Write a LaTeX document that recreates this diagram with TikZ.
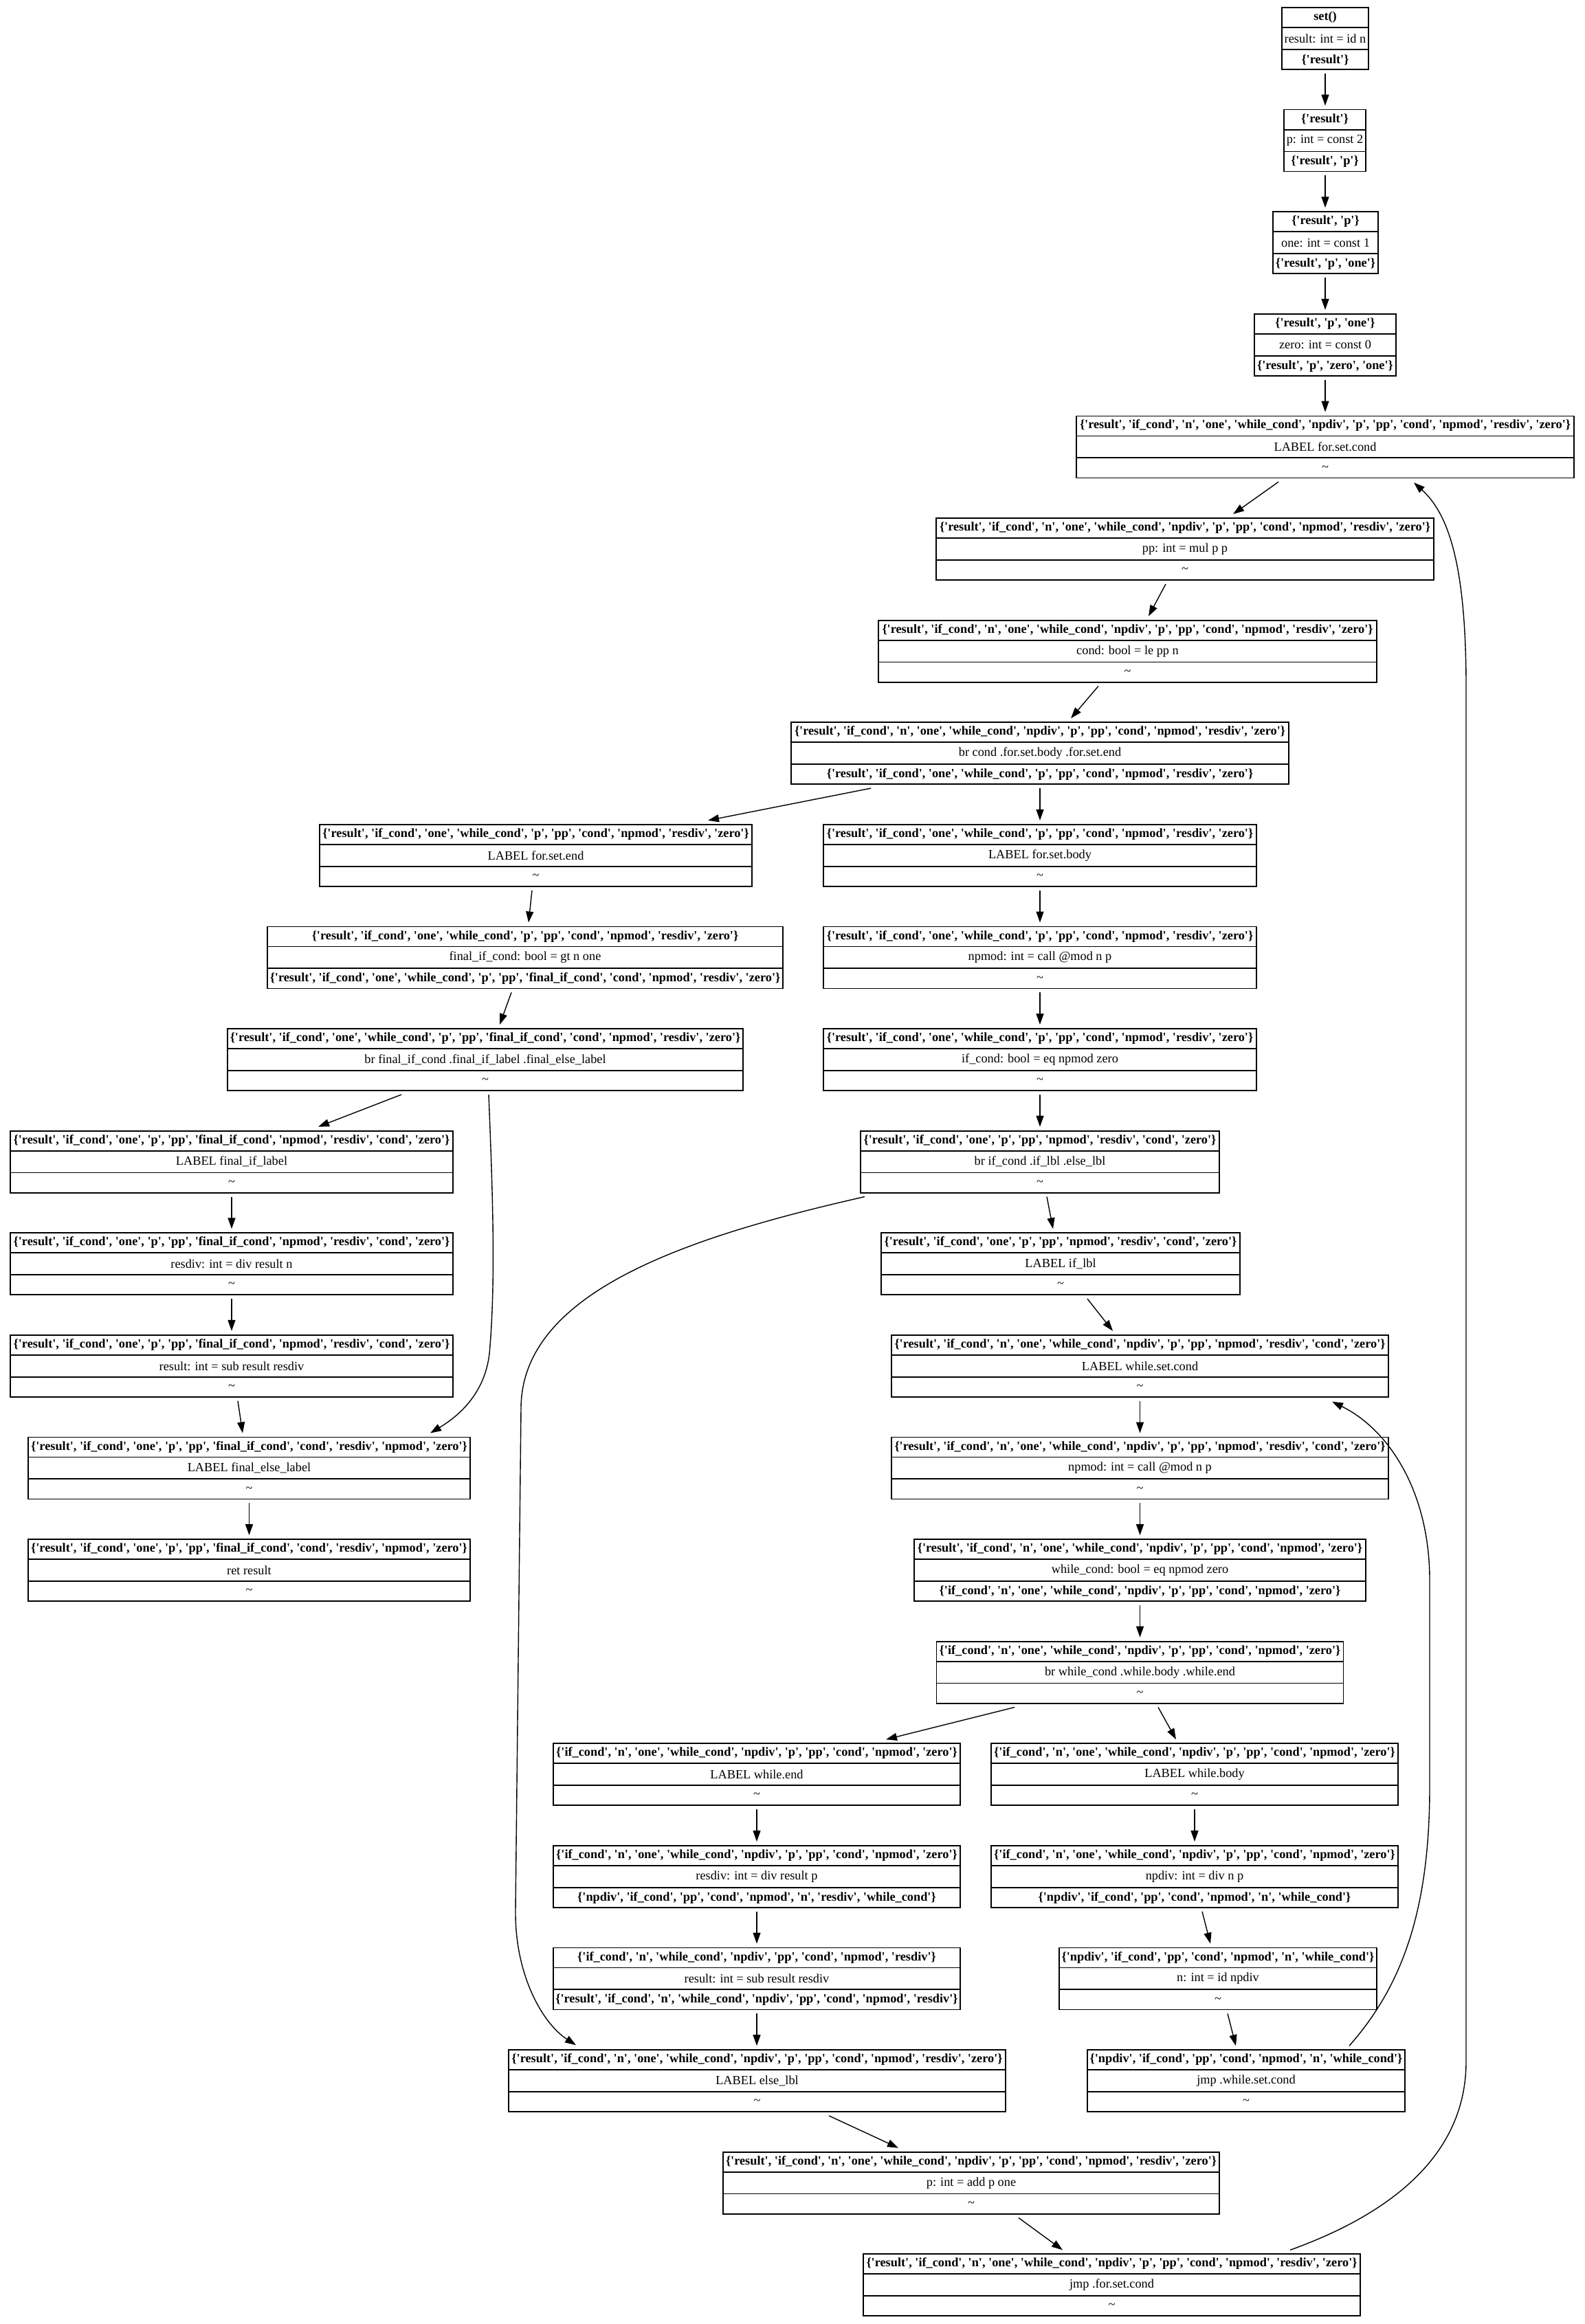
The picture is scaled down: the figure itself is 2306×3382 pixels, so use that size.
\documentclass[tikz,border=0pt]{standalone}
\usepackage{fontspec}
\setmainfont{Liberation Serif}[Ligatures=TeXOff]
\usetikzlibrary{arrows.meta,calc}

\newcommand\SetA{\{'result', 'if\_cond', 'n', 'one', 'while\_cond', 'npdiv', 'p', 'pp', 'cond', 'npmod', 'resdiv', 'zero'\}}
\newcommand\SetB{\{'result', 'if\_cond', 'one', 'while\_cond', 'p', 'pp', 'cond', 'npmod', 'resdiv', 'zero'\}}
\newcommand\SetC{\{'result', 'if\_cond', 'one', 'while\_cond', 'p', 'pp', 'final\_if\_cond', 'cond', 'npmod', 'resdiv', 'zero'\}}
\newcommand\SetD{\{'result', 'if\_cond', 'one', 'p', 'pp', 'final\_if\_cond', 'npmod', 'resdiv', 'cond', 'zero'\}}
\newcommand\SetE{\{'result', 'if\_cond', 'one', 'p', 'pp', 'npmod', 'resdiv', 'cond', 'zero'\}}
\newcommand\SetF{\{'result', 'if\_cond', 'n', 'one', 'while\_cond', 'npdiv', 'p', 'pp', 'npmod', 'resdiv', 'cond', 'zero'\}}
\newcommand\SetG{\{'result', 'if\_cond', 'one', 'p', 'pp', 'final\_if\_cond', 'cond', 'resdiv', 'npmod', 'zero'\}}
\newcommand\SetH{\{'if\_cond', 'n', 'one', 'while\_cond', 'npdiv', 'p', 'pp', 'cond', 'npmod', 'zero'\}}
\newcommand\SetI{\{'npdiv', 'if\_cond', 'pp', 'cond', 'npmod', 'n', 'while\_cond'\}}
\newcommand\Tl{\textasciitilde}

\tikzset{
  recbox/.style={draw, line width=1.8pt, rectangle, minimum height=90pt, inner sep=0pt},
  recline/.style={line width=1.8pt},
  rectxt/.style={inner sep=0pt, anchor=center, font=\fontsize{18.3}{22}\selectfont},
  cfgedge/.style={line width=1.4pt, -{Triangle[length=16pt,width=11pt]}},
}

% name, center x, rank, width, row1, row2, row3
\newcommand{\recnode}[7]{%
  \node[recbox, minimum width=#4pt] (#1) at (#2,{56+148.6*#3}) {};
  \draw[recline] ([yshift=-30pt]#1.north west) -- ([yshift=-30pt]#1.north east);
  \draw[recline] ([yshift=30pt]#1.south west) -- ([yshift=30pt]#1.south east);
  \node[rectxt] (#1-a) at ([yshift=-15pt]#1.north) {#5};
  \node[rectxt] (#1-b) at (#1.center) {#6};
  \node[rectxt] (#1-c) at ([yshift=15pt]#1.south) {#7};
}
% source, x at source, target, x at target
\newcommand{\edg}[4]{\draw[cfgedge] ($(#1.south -| #2,0)+(0,5)$) -- ($(#3.north -| #4,0)+(0,-5)$);}

\begin{document}
\begin{tikzpicture}[x=1pt, y=-1pt]
\fill[white] (0,0) rectangle (2306,3382);
\useasboundingbox (0,0) rectangle (2306,3382);

\recnode{n1}{1928}{0}{126}{\bfseries set()}{result: int = id n}{\bfseries \{'result'\}}
\recnode{n2}{1927.5}{1}{119}{\bfseries \{'result'\}}{p: int = const 2}{\bfseries \{'result', 'p'\}}
\recnode{n3}{1928.5}{2}{153}{\bfseries \{'result', 'p'\}}{one: int = const 1}{\bfseries \{'result', 'p', 'one'\}}
\recnode{n4}{1928}{3}{206}{\bfseries \{'result', 'p', 'one'\}}{zero: int = const 0}{\bfseries \{'result', 'p', 'zero', 'one'\}}
\recnode{n5}{1928}{4}{724}{\bfseries \SetA}{LABEL for.set.cond}{\Tl}
\recnode{n6}{1724}{5}{724}{\bfseries \SetA}{pp: int = mul p p}{\Tl}
\recnode{n7}{1640.5}{6}{725}{\bfseries \SetA}{cond: bool = le pp n}{\Tl}
\recnode{n8}{1513}{7}{724}{\bfseries \SetA}{br cond .for.set.body .for.set.end}{\bfseries \SetB}
\recnode{n9}{779.5}{8}{629}{\bfseries \SetB}{LABEL for.set.end}{\Tl}
\recnode{n10}{1513}{8}{630}{\bfseries \SetB}{LABEL for.set.body}{\Tl}
\recnode{n11}{764}{9}{750}{\bfseries \SetB}{final\_if\_cond: bool = gt n one}{\bfseries \SetC}
\recnode{n12}{1513}{9}{630}{\bfseries \SetB}{npmod: int = call @mod n p}{\Tl}
\recnode{n13}{706}{10}{750}{\bfseries \SetC}{br final\_if\_cond .final\_if\_label .final\_else\_label}{\Tl}
\recnode{n14}{1513}{10}{630}{\bfseries \SetB}{if\_cond: bool = eq npmod zero}{\Tl}
\recnode{n15}{337}{11}{644}{\bfseries \SetD}{LABEL final\_if\_label}{\Tl}
\recnode{n16}{1513}{11}{522}{\bfseries \SetE}{br if\_cond .if\_lbl .else\_lbl}{\Tl}
\recnode{n17}{337}{12}{644}{\bfseries \SetD}{resdiv: int = div result n}{\Tl}
\recnode{n18}{1543}{12}{522}{\bfseries \SetE}{LABEL if\_lbl}{\Tl}
\recnode{n19}{337}{13}{644}{\bfseries \SetD}{result: int = sub result resdiv}{\Tl}
\recnode{n20}{1658.5}{13}{723}{\bfseries \SetF}{LABEL while.set.cond}{\Tl}
\recnode{n21}{362.5}{14}{643}{\bfseries \SetG}{LABEL final\_else\_label}{\Tl}
\recnode{n22}{1658.5}{14}{723}{\bfseries \SetF}{npmod: int = call @mod n p}{\Tl}
\recnode{n23}{362.5}{15}{643}{\bfseries \SetG}{ret result}{\Tl}
\recnode{n24}{1658.5}{15}{657}{\bfseries \{'result', 'if\_cond', 'n', 'one', 'while\_cond', 'npdiv', 'p', 'pp', 'cond', 'npmod', 'zero'\}}{while\_cond: bool = eq npmod zero}{\bfseries \SetH}
\recnode{n25}{1658.5}{16}{592}{\bfseries \SetH}{br while\_cond .while.body .while.end}{\Tl}
\recnode{n26}{1101}{17}{592}{\bfseries \SetH}{LABEL while.end}{\Tl}
\recnode{n27}{1738}{17}{592}{\bfseries \SetH}{LABEL while.body}{\Tl}
\recnode{n28}{1101}{18}{592}{\bfseries \SetH}{resdiv: int = div result p}{\bfseries \{'npdiv', 'if\_cond', 'pp', 'cond', 'npmod', 'n', 'resdiv', 'while\_cond'\}}
\recnode{n29}{1738}{18}{592}{\bfseries \SetH}{npdiv: int = div n p}{\bfseries \SetI}
\recnode{n30}{1101}{19}{592}{\bfseries \{'if\_cond', 'n', 'while\_cond', 'npdiv', 'pp', 'cond', 'npmod', 'resdiv'\}}{result: int = sub result resdiv}{\bfseries \{'result', 'if\_cond', 'n', 'while\_cond', 'npdiv', 'pp', 'cond', 'npmod', 'resdiv'\}}
\recnode{n31}{1772}{19}{462}{\bfseries \SetI}{n: int = id npdiv}{\Tl}
\recnode{n32}{1101.5}{20}{723}{\bfseries \SetA}{LABEL else\_lbl}{\Tl}
\recnode{n33}{1813}{20}{462}{\bfseries \SetI}{jmp .while.set.cond}{\Tl}
\recnode{n34}{1413}{21}{722}{\bfseries \SetA}{p: int = add p one}{\Tl}
\recnode{n35}{1617.5}{22}{723}{\bfseries \SetA}{jmp .for.set.cond}{\Tl}

% straight edges
\edg{n1}{1928}{n2}{1928}
\edg{n2}{1928}{n3}{1928}
\edg{n3}{1928}{n4}{1928}
\edg{n4}{1928}{n5}{1928}
\edg{n5}{1860}{n6}{1794}
\edg{n6}{1696}{n7}{1671}
\edg{n7}{1598}{n8}{1558}
\edg{n8}{1267}{n9}{1030}
\edg{n8}{1513}{n10}{1513}
\edg{n9}{774}{n11}{769}
\edg{n10}{1513}{n12}{1513}
\edg{n11}{744}{n13}{727}
\edg{n12}{1513}{n14}{1513}
\edg{n13}{584}{n15}{463}
\edg{n14}{1513}{n16}{1513}
\edg{n15}{337}{n17}{337}
\edg{n16}{1523}{n18}{1532}
\edg{n17}{337}{n19}{337}
\edg{n18}{1582}{n20}{1619}
\edg{n19}{346}{n21}{353}
\edg{n20}{1658.5}{n22}{1658.5}
\edg{n21}{362.5}{n23}{362.5}
\edg{n22}{1658.5}{n24}{1658.5}
\edg{n24}{1658.5}{n25}{1658.5}
\edg{n25}{1476}{n26}{1289}
\edg{n25}{1685}{n27}{1711}
\edg{n26}{1101}{n28}{1101}
\edg{n27}{1738}{n29}{1738}
\edg{n28}{1101}{n30}{1101}
\edg{n29}{1749}{n31}{1761}
\edg{n30}{1101}{n32}{1101}
\edg{n31}{1786}{n33}{1798}
\edg{n32}{1206}{n34}{1307}
\edg{n34}{1482}{n35}{1546}

% curved edges
\draw[cfgedge] ($(n13.south -| 711,0)+(0,5)$) .. controls (716,1720) and (722,1860) .. (712,1970)
  .. controls (705,2030) and (665,2062) .. ($(n21.north -| 626,0)+(0,-5)$);
\draw[cfgedge] ($(n16.south -| 1258,0)+(0,5)$) .. controls (1000,1800) and (758,1880) .. (758,2050)
  -- (750,2780) .. controls (749,2875) and (790,2945) .. ($(n32.north -| 838,0)+(0,-6)$);
\draw[cfgedge] ($(n33.north -| 1963,0)+(0,-5)$) .. controls (2040,2890) and (2080,2780) .. (2080,2600)
  -- (2080,2300) .. controls (2080,2170) and (2020,2080) .. ($(n20.south -| 1938,0)+(0,6)$);
\draw[cfgedge] ($(n35.north -| 1877,0)+(0,-5)$) .. controls (2000,3230) and (2133,3150) .. (2133,3000)
  -- (2133,1000) .. controls (2133,830) and (2110,750) .. ($(n5.south -| 2057,0)+(0,6)$);
\end{tikzpicture}
\end{document}
